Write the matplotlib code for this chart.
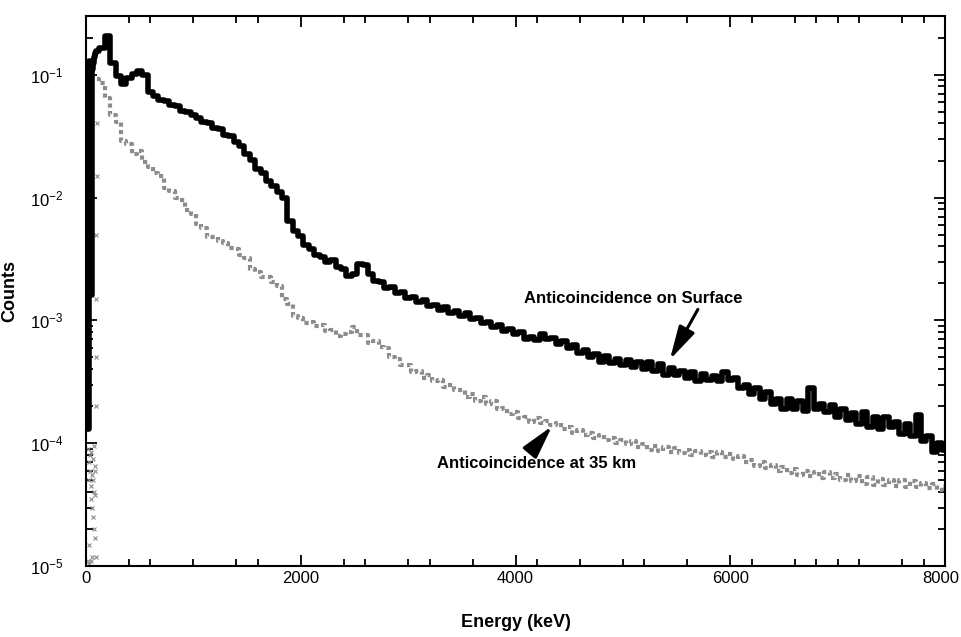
import numpy as np
import matplotlib
matplotlib.use("Agg")
import matplotlib.pyplot as plt
from matplotlib.transforms import ScaledTranslation

plt.rcParams['font.family'] = ['Liberation Sans', 'DejaVu Sans']
plt.rcParams['mathtext.default'] = 'regular'

# low-energy edge (keV, counts)
surface_low_e = [10, 20, 30, 40, 50, 60, 70, 80, 90]
surface_low = [1.3e-4, 1.3e-4, 0.13, 0.12, 1.6e-3, 0.11, 0.125, 0.14, 0.15]

# main spectrum, 100 .. 8000 keV in 50 keV bins
energy = np.arange(100, 8001, 50)

surface = [
    0.155, 0.165, 0.205, 0.125, 0.098, 0.084, 0.094, 0.101, 0.106, 0.100,
    0.072, 0.067, 0.062, 0.0605, 0.057, 0.0555, 0.0505, 0.0495, 0.0465, 0.0445,
    0.041, 0.0405, 0.0365, 0.036, 0.0325, 0.0315, 0.0285, 0.026, 0.0225, 0.0203,
    0.017, 0.0157, 0.0135, 0.0125, 0.011, 0.0099, 0.0064, 0.0053, 0.0049, 0.0041,
    0.0038, 0.0034, 0.0033, 0.0030, 0.0031, 0.0027, 0.0026, 0.0023, 0.0024, 0.0029,
    0.0028, 0.0024, 0.0021, 0.00205, 0.00185, 0.00188, 0.00168, 0.0017, 0.00153, 0.00156,
    0.00142, 0.00146, 0.00131, 0.00133, 0.00122, 0.00128, 0.00114, 0.00119, 0.00108, 0.00114,
    0.00102, 0.00104, 0.00095, 0.00097, 0.00088, 0.00091, 0.00082, 0.00085, 0.00077, 0.0008,
    0.00071, 0.00074, 0.00069, 0.00077, 0.0007, 0.00072, 0.00064, 0.00068, 0.0006, 0.00063,
    0.00054, 0.00057, 0.0005, 0.00053, 0.00046, 0.00051, 0.00045, 0.00049, 0.00043, 0.00048,
    0.00042, 0.00046, 0.0004, 0.00046, 0.00039, 0.00044, 0.00036, 0.00041, 0.00036, 0.00039,
    0.00034, 0.00038, 0.00032, 0.00037, 0.00033, 0.00035, 0.00032, 0.00038, 0.00033, 0.00034,
    0.00028, 0.0003, 0.00025, 0.00028, 0.00023, 0.00026, 0.00021, 0.00023, 0.00019, 0.00023,
    0.00019, 0.00022, 0.000185, 0.00028, 0.00019, 0.00021, 0.00018, 0.000205, 0.000165, 0.00019,
    0.000155, 0.000175, 0.000145, 0.00018, 0.000135, 0.000165, 0.00013, 0.000165, 0.000135, 0.00015,
    0.00012, 0.000145, 0.000115, 0.00017, 0.000105, 0.000115, 0.000085, 0.0001, 0.000088,
]

at_35km = [
    0.092, 0.086, 0.065, 0.047, 0.041, 0.029, 0.027, 0.0225, 0.024, 0.0195,
    0.0178, 0.0158, 0.0150, 0.0120, 0.0113, 0.0099, 0.0095, 0.0079, 0.0074, 0.0061,
    0.0056, 0.0048, 0.0048, 0.0044, 0.0043, 0.0039, 0.0038, 0.0034, 0.0032, 0.0026,
    0.0025, 0.00225, 0.00225, 0.00205, 0.0019, 0.0015, 0.00135, 0.00108, 0.00104, 0.00095,
    0.00097, 0.0009, 0.00091, 0.00082, 0.00083, 0.00075, 0.00078, 0.00081, 0.00089, 0.00076,
    0.00076, 0.00066, 0.00068, 0.00061, 0.0006, 0.0005, 0.00049, 0.00043, 0.00043, 0.00038,
    0.00039, 0.00034, 0.00036, 0.00032, 0.00033, 0.00029, 0.0003, 0.00027, 0.00027, 0.00024,
    0.00025, 0.00022, 0.00024, 0.00021, 0.00022, 0.00019, 0.000195, 0.000172, 0.00018, 0.00016,
    0.000163, 0.00015, 0.00016, 0.000146, 0.000151, 0.00014, 0.000146, 0.000131, 0.000136, 0.000122,
    0.000128, 0.000116, 0.000121, 0.00011, 0.000116, 0.000106, 0.000111, 0.000101, 0.000107, 0.000098,
    0.000104, 0.000094, 0.000099, 0.000089, 0.000095, 0.000087, 0.000093, 0.000085, 0.000091, 0.000083,
    0.000089, 0.000081, 0.000087, 0.00008, 0.000085, 0.000078, 0.000085, 0.000077, 0.000082, 0.000075,
    0.000079, 0.00007, 0.000073, 0.000066, 0.00007, 0.000063, 0.000067, 0.00006, 0.000064, 0.000057,
    0.000062, 0.000055, 0.00006, 0.000054, 0.000058, 0.000052, 0.000058, 0.000052, 0.000056, 0.00005,
    0.000055, 0.000049, 0.000054, 0.000047, 0.000053, 0.000046, 0.000051, 0.000046, 0.00005, 0.000045,
    0.00005, 0.000044, 0.000049, 0.000044, 0.000048, 0.000043, 0.000047, 0.000042, 0.000045,
]

# scattered low-energy points of the 35 km spectrum
low_35km_e = [20, 25, 30, 35, 40, 45, 50, 55, 60, 65, 70, 75, 80, 85, 90,
              22, 32, 42, 52, 62, 72, 82, 27, 47, 67, 87, 95, 95, 95, 95, 98, 98]
low_35km = [9e-5, 7e-5, 5e-5, 8e-5, 6e-5, 4.5e-5, 3.5e-5, 5.5e-5, 3e-5, 2.5e-5,
            4e-5, 2e-5, 6.5e-5, 1.7e-5, 1.2e-5, 1.1e-5, 1.05e-5, 1.1e-5, 1.2e-5,
            7.5e-5, 9.5e-5, 6e-5, 1.5e-5, 8.5e-5, 5e-5, 3.8e-5, 2e-4, 5e-4, 1.5e-3,
            5e-3, 0.015, 0.04]

fig = plt.figure(figsize=(9.62, 6.37), dpi=100)
ax = fig.add_axes([0.0894, 0.111, 0.893, 0.864])

ax.plot(low_35km_e, low_35km, linestyle='none', marker='x', ms=3, mew=0.8, color='#8a8a8a')
ax.plot(energy, at_35km, drawstyle='steps-mid', color='#8c8c8c', lw=3,
        linestyle=(0, (1, 0.8)))
ax.plot(surface_low_e + list(energy), surface_low + surface,
        drawstyle='steps-mid', color='black', lw=4)

ax.set_yscale('log')
ax.set_xlim(0, 8000)
ax.set_ylim(1e-5, 0.3)
ax.set_xticks([0, 2000, 4000, 6000, 8000])
ax.set_xticks([1000, 3000, 5000, 7000, 400, 600, 1400, 1600, 2400, 2600, 3200, 3600,
               4200, 4600, 5200, 5600, 6200, 6600, 6800, 7200, 7600, 7800], minor=True)
ax.tick_params(which='both', direction='in', top=True, right=True, labelsize=12, width=1.3)
ax.tick_params(which='major', length=8)
ax.tick_params(which='minor', length=5)
ax.tick_params(axis='y', which='major', pad=16)
for s in ax.spines.values():
    s.set_linewidth(1.5)

# keep the last x label inside the figure
last = ax.get_xticklabels()[-1]
last.set_transform(last.get_transform() + ScaledTranslation(-3 / 72, 0, fig.dpi_scale_trans))

ax.set_xlabel('Energy (keV)', fontsize=13, fontweight='bold', labelpad=20)
ax.set_ylabel('Counts', fontsize=13, fontweight='bold')
ax.yaxis.set_label_coords(-0.079, 0.5)

arrow = dict(arrowstyle='-|>,head_length=0.85,head_width=0.22', color='black', lw=2.2,
             mutation_scale=24, shrinkA=0, shrinkB=0)
ax.text(5093, 1.5e-3, 'Anticoincidence on Surface', fontsize=12, fontweight='bold',
        ha='center', va='center')
ax.annotate('', xy=(5437, 4.8e-4), xytext=(5698, 1.23e-3), arrowprops=arrow)
ax.text(4199, 6.8e-5, 'Anticoincidence at 35 km', fontsize=12, fontweight='bold',
        ha='center', va='center')
ax.annotate('', xy=(4340, 1.38e-4), xytext=(4180, 9.4e-5), arrowprops=arrow)

fig.savefig('out.png', dpi=100)
